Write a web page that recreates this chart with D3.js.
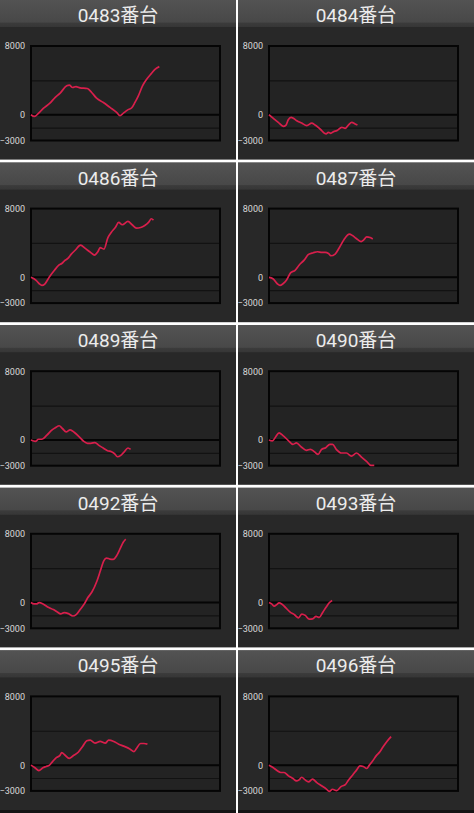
<!DOCTYPE html>
<html>
<head>
<meta charset="utf-8">
<script src="https://cdn.jsdelivr.net/npm/d3@7"></script>
<style>
  html, body { margin: 0; padding: 0; background: #fff; }
  svg { display: block; }
  .title { font-family: Roboto, "Noto Sans CJK JP", sans-serif; font-size: 19px; fill: #ececec; }
  .tick text { font-family: Roboto, "Liberation Sans", sans-serif; font-size: 9px; fill: #d8d8d8; }
</style>
</head>
<body>
<svg width="474" height="813"></svg>
<script>
// machine numbers, one panel each
const titles = ['0483番台', '0484番台', '0486番台', '0487番台', '0489番台',
                '0490番台', '0492番台', '0493番台', '0495番台', '0496番台'];

// y axis
const yDomain = [-3000, 8000];
const yLabels = [8000, 0, -3000];
const yGrid = [4000, -1500];

// [progress %, balance]
const m0483 = [[0,0],[1.8,-200],[3.9,150],[6.5,730],[10,1350],[12.7,2000],[15.3,2490],[18.9,3360],[20.3,3440],[22,3170],[23.8,3280],[25.9,3130],[29.8,3050],[32.1,2590],[34.7,1930],[38.3,1430],[41.8,850],[45.3,270],[47.1,-110],[48.9,190],[51,540],[53.3,810],[55,1430],[56.8,2200],[59,3360],[61.2,4130],[63.8,4830],[65.6,5290],[67.9,5600]];
const m0484 = [[0,0],[2.3,-420],[4.9,-890],[7.6,-1350],[9,-1200],[10.2,-580],[11.7,-310],[12.9,-420],[14.7,-700],[17.3,-970],[20,-1270],[22.6,-970],[24.4,-1200],[27,-1660],[30.2,-2240],[31.4,-2050],[32.7,-2160],[34.1,-1970],[35.9,-1850],[38.5,-1470],[40.3,-1580],[42,-1200],[43.8,-890],[45.6,-1080],[46.8,-1200]];
const m0486 = [[0,0],[2.7,-350],[4.4,-750],[5.8,-940],[7.4,-750],[9.7,40],[12.4,820],[14.7,1410],[16.3,1610],[17.7,1920],[19.5,2200],[21.2,2670],[23.5,3180],[26.2,3760],[28.7,3370],[31.5,2900],[33.6,2590],[35.4,2980],[36.6,3450],[38.6,3290],[40.7,4630],[42.5,5250],[44.6,5800],[46.4,6390],[48.3,6120],[51.3,6510],[53.5,6120],[55.8,5730],[58,5800],[60.2,6040],[62.3,6430],[63.7,6820],[64.8,6670]];
const m0487 = [[0,0],[2.1,-160],[4.4,-750],[5.8,-940],[7.4,-750],[9.2,-350],[11.5,550],[13.8,820],[15.9,1410],[18.6,2000],[20.9,2670],[23.4,2860],[25.7,2980],[28,2900],[29.7,2900],[31.5,2780],[32.7,2510],[35,2710],[37.2,3450],[39.8,4430],[42.5,5020],[44.2,4860],[46,4550],[48.7,4160],[50.1,4350],[51.7,4710],[53.5,4630],[54.9,4470]];
const m0489 = [[0,0],[2.3,-160],[4,80],[5.8,80],[8.4,550],[11,1140],[13.1,1450],[14.9,1650],[16.6,1330],[18.6,940],[20.7,1180],[23,860],[25.4,390],[27.7,-120],[29.9,-390],[31.7,-390],[33.8,-310],[35.9,-630],[38.2,-940],[40.5,-1250],[42.6,-1370],[44.3,-1610],[45.7,-1960],[47.5,-1800],[49.2,-1410],[51.3,-940],[52.7,-1100]];
const m0490 = [[0,0],[1.8,-120],[3.5,350],[5.3,820],[7.4,510],[10.1,-40],[12.7,-510],[14.5,-350],[17.1,-820],[19.8,-1210],[21.9,-1090],[24.2,-1410],[26,-1680],[27.7,-1130],[30,-900],[32.2,-510],[33.6,-510],[35.7,-1130],[38.3,-1520],[41,-1520],[43.6,-1880],[46.3,-1520],[48.9,-1990],[51.6,-2500],[53.9,-2970],[55.7,-2970]];
const m0492 = [[0,0],[1.6,-160],[2.9,-160],[4.3,0],[6.4,-160],[9.1,-550],[11.8,-820],[13.9,-1100],[15.7,-1330],[17.5,-1180],[19.8,-1290],[22.1,-1570],[23.9,-1410],[26,-820],[28.2,-160],[30,550],[32.3,1250],[34.9,2510],[36.7,3690],[38.5,4860],[39.9,5180],[41.7,5060],[43.5,5020],[45.3,5450],[47.1,6240],[48.8,7020],[50.1,7370]];
const m0493 = [[0,0],[1.4,-160],[2.8,-430],[4.1,-240],[5.3,-40],[6.7,-160],[8.9,-630],[11.2,-1110],[13.5,-1420],[15.6,-1780],[17.4,-1340],[19.2,-1500],[21.3,-1940],[23.1,-1900],[24.9,-1620],[26.6,-1740],[28.4,-1150],[30.2,-550],[32,0],[33.4,240]];
const m0495 = [[0,0],[2.1,-310],[4.1,-630],[6.3,-310],[8,-160],[9.8,0],[11.6,470],[13.4,870],[15.2,1100],[16.3,1460],[17.9,1180],[20.2,790],[22.3,1100],[25,1500],[27.3,2170],[29.5,2830],[31.3,2910],[33.9,2560],[36.6,2760],[39.3,2560],[41.1,2910],[43.8,2760],[46.4,2440],[49.1,2210],[52.3,1890],[54.5,1570],[55.9,1970],[58,2520],[59.8,2520],[61.6,2440]];
const m0496 = [[0,0],[2.1,-270],[4.4,-660],[6.2,-860],[8,-860],[10.3,-1250],[12.7,-1560],[14.5,-1840],[15.9,-1720],[17.3,-1410],[19.1,-1720],[20.9,-1950],[23,-1640],[25.3,-2030],[28,-2420],[30.1,-2730],[31.9,-3050],[33.6,-2810],[35.8,-2970],[38.1,-2500],[40.4,-2270],[42.1,-1720],[44.2,-1170],[46.4,-550],[48.1,-80],[49.9,-160],[51.7,-390],[53.1,0],[54.9,510],[57,1170],[58.4,1480],[60.2,2070],[62.3,2730],[64.6,3320]];

const series = [m0483, m0484, m0486, m0487, m0489, m0490, m0492, m0493, m0495, m0496];

const svg = d3.select('svg');
const width = +svg.attr('width');
const height = +svg.attr('height');

const gap = 2;
const panelW = (width - gap) / 2;
const rowH = height / 5;
const panelH = rowH - 3;
const headerH = 27;
const plot = { left: 31, right: 220, top: 46, bottom: 140.5 };

const defs = svg.append('defs');
const grad = defs.append('linearGradient')
    .attr('id', 'hdr')
    .attr('x1', 0).attr('y1', 0).attr('x2', 0).attr('y2', 1);
grad.append('stop').attr('offset', '0%').attr('stop-color', '#535353');
grad.append('stop').attr('offset', '82%').attr('stop-color', '#484848');
grad.append('stop').attr('offset', '85%').attr('stop-color', '#3b3b3b');
grad.append('stop').attr('offset', '100%').attr('stop-color', '#363636');

const xScale = d3.scaleLinear()
    .domain([0, 100])
    .range([plot.left, plot.right]);

const yScale = d3.scaleLinear()
    .domain(yDomain)
    .range([plot.bottom, plot.top]);

const line = d3.line()
    .x(d => xScale(d[0]))
    .y(d => yScale(d[1]))
    .curve(d3.curveMonotoneX);

const labelAxis = d3.axisLeft(yScale)
    .tickValues(yLabels)
    .tickSize(0)
    .tickPadding(6)
    .tickFormat(d3.format('d'));

const gridAxis = d3.axisLeft(yScale)
    .tickValues(yGrid)
    .tickSize(-(plot.right - plot.left))
    .tickFormat('');

titles.forEach((title, i) => {
    const col = i % 2;
    const row = Math.floor(i / 2);
    const last = row === 4;
    const g = svg.append('g')
        .attr('transform', `translate(${col * (panelW + gap)},${row * rowH})`);

    // bottom row runs to the edge, with a darker strip at the very bottom
    if (last) {
        g.append('rect')
            .attr('y', panelH)
            .attr('width', panelW)
            .attr('height', rowH - panelH)
            .attr('fill', '#141414');
    }

    g.append('rect')
        .attr('width', panelW)
        .attr('height', panelH)
        .attr('fill', '#282828');

    g.append('rect')
        .attr('width', panelW)
        .attr('height', headerH)
        .attr('fill', 'url(#hdr)');

    g.append('text')
        .attr('class', 'title')
        .attr('x', panelW / 2)
        .attr('y', 22)
        .attr('text-anchor', 'middle')
        .text(title);

    g.append('rect')
        .attr('x', plot.left)
        .attr('y', plot.top)
        .attr('width', plot.right - plot.left)
        .attr('height', plot.bottom - plot.top)
        .attr('fill', '#232323');

    const gridG = g.append('g')
        .attr('transform', `translate(${plot.left},0)`)
        .call(gridAxis);
    gridG.select('.domain').remove();
    gridG.selectAll('.tick line')
        .attr('stroke', '#121212')
        .attr('stroke-width', 1.2);

    g.append('line')
        .attr('x1', plot.left)
        .attr('x2', plot.right)
        .attr('y1', yScale(0))
        .attr('y2', yScale(0))
        .attr('stroke', '#050505')
        .attr('stroke-width', 2);

    const labelG = g.append('g')
        .attr('transform', `translate(${plot.left},0)`)
        .call(labelAxis);
    labelG.select('.domain').remove();

    g.append('rect')
        .attr('x', plot.left)
        .attr('y', plot.top)
        .attr('width', plot.right - plot.left)
        .attr('height', plot.bottom - plot.top)
        .attr('fill', 'none')
        .attr('stroke', '#050505')
        .attr('stroke-width', 2);

    g.append('path')
        .datum(series[i])
        .attr('d', line)
        .attr('fill', 'none')
        .attr('stroke', '#d81f4c')
        .attr('stroke-width', 1.7)
        .attr('stroke-linejoin', 'round');
});
</script>
</body>
</html>
